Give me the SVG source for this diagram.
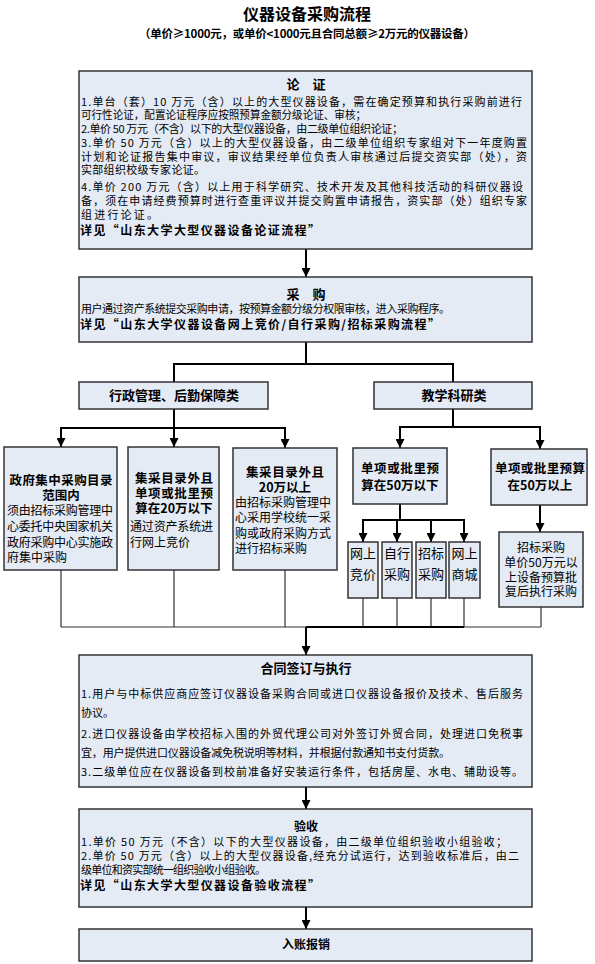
<svg xmlns="http://www.w3.org/2000/svg" width="595" height="964" viewBox="0 0 595 964">
<style>
.box{fill:#E5EBF5;stroke:#333;stroke-width:1.5}
.t{font-family:"Noto Sans CJK SC","Noto Sans",sans-serif;font-size:11px;fill:#000}
.m{font-size:12px}
.s{font-size:12.5px}
.f13{font-size:13px}
.f16{font-size:16px}
.sub{font-size:11.5px}
.b{font-weight:bold}
.bt{font-weight:bold;font-size:12px}
.c{text-anchor:middle}
.ln{stroke:#000;stroke-width:2;fill:none}
.thin{stroke:#333;stroke-width:1.2;fill:none}
</style>
<defs>
<marker id="ah" viewBox="0 0 10 10" refX="10" refY="5" markerWidth="9" markerHeight="9" markerUnits="userSpaceOnUse" orient="auto"><path d="M0,0 L10,5 L0,10 z" fill="#000"/></marker>
</defs>
<rect width="595" height="964" fill="#fff"/>
<g id="title">
<text class="t b c f16" x="307" y="20">仪器设备采购流程</text>
<text class="t b c sub" x="307" y="38" textLength="336" lengthAdjust="spacing">（单价≥1000元，或单价&lt;1000元且合同总额≥2万元的仪器设备）</text>
</g>
<g id="connectors">
<path class="ln" d="M306,249 V277" marker-end="url(#ah)"/>
<path class="ln" d="M306,342 V364 M174,364 H453 M174,363 V382 M453,363 V382"/>
<path class="ln" d="M174,409 V428 M61,428 H285"/>
<path class="ln" d="M61,427 V447" marker-end="url(#ah)"/>
<path class="ln" d="M174,428 V447" marker-end="url(#ah)"/>
<path class="ln" d="M285,427 V448" marker-end="url(#ah)"/>
<path class="ln" d="M453,409 V427 M400,427 H540"/>
<path class="ln" d="M400,426 V448" marker-end="url(#ah)"/>
<path class="ln" d="M540,426 V449" marker-end="url(#ah)"/>
<path class="ln" d="M400,504 V520 M363,520 H464"/>
<path class="ln" d="M363,519 V542" marker-end="url(#ah)"/>
<path class="ln" d="M397,520 V542" marker-end="url(#ah)"/>
<path class="ln" d="M431,520 V542" marker-end="url(#ah)"/>
<path class="ln" d="M464,519 V542" marker-end="url(#ah)"/>
<path class="ln" d="M540,505 V532" marker-end="url(#ah)"/>
<path class="thin" d="M61,570 V627 M174,570 V627 M285,570 V627 M363,598 V627 M397,598 V627 M431,598 V627 M464,598 V627 M541,607 V627 M61,627 H541"/>
<path class="ln" d="M306,627 H464"/>
<path class="ln" d="M306,627 V655" marker-end="url(#ah)"/>
<path class="ln" d="M306,787 V809" marker-end="url(#ah)"/>
<path class="ln" d="M306,907 V929" marker-end="url(#ah)"/>
</g>
<g id="lunzheng">
<rect class="box" x="79" y="71" width="453" height="178"/>
<text class="t b c f13" x="306" y="89">论　证</text>
<text class="t" x="81" y="106" textLength="441" lengthAdjust="spacing">1.单台（套）10 万元（含）以上的大型仪器设备，需在确定预算和执行采购前进行</text>
<text class="t" x="81" y="119" textLength="285" lengthAdjust="spacingAndGlyphs">可行性论证，配置论证程序应按照预算金额分级论证、审核；</text>
<text class="t" x="81" y="133" textLength="322" lengthAdjust="spacing">2.单价 50 万元（不含）以下的大型仪器设备，由二级单位组织论证；</text>
<text class="t" x="81" y="147" textLength="446" lengthAdjust="spacing">3.单价 50 万元（含）以上的大型仪器设备，由二级单位组织专家组对下一年度购置</text>
<text class="t" x="81" y="161" textLength="446" lengthAdjust="spacing">计划和论证报告集中审议，审议结果经单位负责人审核通过后提交资实部（处），资</text>
<text class="t" x="81" y="174" textLength="124" lengthAdjust="spacing">实部组织校级专家论证。</text>
<text class="t" x="81" y="191" textLength="442" lengthAdjust="spacing">4.单价 200 万元（含）以上用于科学研究、技术开发及其他科技活动的科研仪器设</text>
<text class="t" x="81" y="205" textLength="446" lengthAdjust="spacing">备，须在申请经费预算时进行查重评议并提交购置申请报告，资实部（处）组织专家</text>
<text class="t" x="81" y="219" textLength="77" lengthAdjust="spacing">组进行论证。</text>
<text class="t bt" x="80" y="235" textLength="240" lengthAdjust="spacing">详见“山东大学大型仪器设备论证流程”</text>
</g>
<g id="caigou">
<rect class="box" x="79" y="277" width="453" height="65"/>
<text class="t b c f13" x="306" y="299">采　购</text>
<text class="t" x="81" y="313" textLength="369" lengthAdjust="spacing">用户通过资产系统提交采购申请，按预算金额分级分权限审核，进入采购程序。</text>
<text class="t bt" x="80" y="329" textLength="360" lengthAdjust="spacing">详见“山东大学仪器设备网上竞价/自行采购/招标采购流程”</text>
</g>
<g id="xingzheng">
<rect class="box" x="79" y="382" width="189" height="27"/>
<text class="t f13 b c" x="174" y="400">行政管理、后勤保障类</text>
</g>
<g id="jiaoxue">
<rect class="box" x="374" y="382" width="158" height="27"/>
<text class="t f13 b c" x="454" y="400">教学科研类</text>
</g>
<g id="zhengfu">
<rect class="box" x="4" y="447" width="113" height="123"/>
<text class="t s b c" x="61" y="485" textLength="103" lengthAdjust="spacing">政府集中采购目录</text>
<text class="t s b c" x="61" y="500">范围内</text>
<text class="t m" x="7" y="515" textLength="106" lengthAdjust="spacing">须由招标采购管理中</text>
<text class="t m" x="7" y="531" textLength="106" lengthAdjust="spacing">心委托中央国家机关</text>
<text class="t m" x="7" y="547" textLength="106" lengthAdjust="spacing">政府采购中心实施政</text>
<text class="t m" x="7" y="562">府集中采购</text>
</g>
<g id="ji20below">
<rect class="box" x="128" y="447" width="91" height="123"/>
<text class="t s b c" x="174" y="483" textLength="78" lengthAdjust="spacing">集采目录外且</text>
<text class="t s b c" x="174" y="498" textLength="78" lengthAdjust="spacing">单项或批里预</text>
<text class="t s b c" x="174" y="513">算在20万以下</text>
<text class="t m" x="130" y="531" textLength="83" lengthAdjust="spacing">通过资产系统进</text>
<text class="t m" x="130" y="547">行网上竞价</text>
</g>
<g id="ji20above">
<rect class="box" x="233" y="448" width="104" height="122"/>
<text class="t s b c" x="285" y="477" textLength="78" lengthAdjust="spacing">集采目录外且</text>
<text class="t s b c" x="285" y="492">20万以上</text>
<text class="t m" x="235" y="507" textLength="96" lengthAdjust="spacing">由招标采购管理中</text>
<text class="t m" x="235" y="522" textLength="96" lengthAdjust="spacing">心采用学校统一采</text>
<text class="t m" x="235" y="538" textLength="96" lengthAdjust="spacing">购或政府采购方式</text>
<text class="t m" x="235" y="553">进行招标采购</text>
</g>
<g id="below50">
<rect class="box" x="353" y="448" width="94" height="56"/>
<text class="t s b c" x="400" y="473" textLength="78" lengthAdjust="spacing">单项或批里预</text>
<text class="t s b c" x="400" y="490">算在50万以下</text>
</g>
<g id="above50">
<rect class="box" x="491" y="449" width="96" height="56"/>
<text class="t s b c" x="540" y="473" textLength="90" lengthAdjust="spacing">单项或批里预算</text>
<text class="t s b c" x="540" y="490">在50万以上</text>
</g>
<g id="wangshangjingjia">
<rect class="box" x="348" y="542" width="30" height="56"/>
<text class="t f13 c" x="363" y="558">网上</text>
<text class="t f13 c" x="363" y="579">竞价</text>
</g>
<g id="zixingcaigou">
<rect class="box" x="382" y="542" width="30" height="56"/>
<text class="t f13 c" x="397" y="558">自行</text>
<text class="t f13 c" x="397" y="579">采购</text>
</g>
<g id="zhaobiaocaigou">
<rect class="box" x="416" y="542" width="30" height="56"/>
<text class="t f13 c" x="431" y="558">招标</text>
<text class="t f13 c" x="431" y="579">采购</text>
</g>
<g id="wangshangshangcheng">
<rect class="box" x="449" y="542" width="31" height="56"/>
<text class="t f13 c" x="464.5" y="558">网上</text>
<text class="t f13 c" x="464.5" y="579">商城</text>
</g>
<g id="zhaobiao50">
<rect class="box" x="499" y="532" width="84" height="75"/>
<text class="t m c" x="541" y="552">招标采购</text>
<text class="t m c" x="541" y="567">单价50万元以</text>
<text class="t m c" x="541" y="582">上设备预算批</text>
<text class="t m c" x="541" y="596">复后执行采购</text>
</g>
<g id="hetong">
<rect class="box" x="79" y="655" width="453" height="132"/>
<text class="t b c f13" x="306" y="673">合同签订与执行</text>
<text class="t" x="81" y="698" textLength="442" lengthAdjust="spacing">1.用户与中标供应商应签订仪器设备采购合同或进口仪器设备报价及技术、售后服务</text>
<text class="t" x="81" y="717">协议。</text>
<text class="t" x="81" y="738" textLength="442" lengthAdjust="spacing">2.进口仪器设备由学校招标入围的外贸代理公司对外签订外贸合同，处理进口免税事</text>
<text class="t" x="81" y="757" textLength="369" lengthAdjust="spacing">宜，用户提供进口仪器设备减免税说明等材料，并根据付款通知书支付货款。</text>
<text class="t" x="81" y="776" textLength="442" lengthAdjust="spacing">3.二级单位应在仪器设备到校前准备好安装运行条件，包括房屋、水电、辅助设等。</text>
</g>
<g id="yanshou">
<rect class="box" x="79" y="809" width="453" height="98"/>
<text class="t bt c" x="306" y="831">验收</text>
<text class="t" x="81" y="846" textLength="426" lengthAdjust="spacing">1.单价 50 万元（不含）以下的大型仪器设备，由二级单位组织验收小组验收；</text>
<text class="t" x="81" y="860" textLength="438" lengthAdjust="spacing">2.单价 50 万元（含）以上的大型仪器设备,经充分试运行，达到验收标准后，由二</text>
<text class="t" x="81" y="874" textLength="185" lengthAdjust="spacing">级单位和资实部统一组织验收小组验收。</text>
<text class="t bt" x="80" y="890" textLength="240" lengthAdjust="spacing">详见“山东大学大型仪器设备验收流程”</text>
</g>
<g id="ruzhang">
<rect class="box" x="79" y="929" width="453" height="32"/>
<text class="t bt c" x="306" y="949">入账报销</text>
</g>
</svg>
